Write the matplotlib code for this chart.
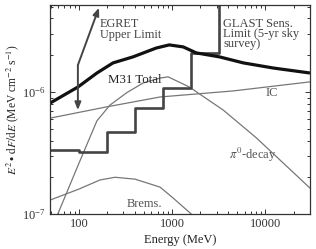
import matplotlib
matplotlib.use("Agg")
import matplotlib.pyplot as plt
from matplotlib.ticker import LogLocator, FixedLocator, FixedFormatter, NullFormatter

plt.rcParams['font.family'] = ['Liberation Serif', 'DejaVu Serif']
plt.rcParams['mathtext.fontset'] = 'stix'

# ---- data ----
m31_E = [49, 98, 156, 232, 381, 673, 929, 1313, 1811, 3200, 5800, 12200, 30000]
m31_F = [8.1e-7, 1.10e-6, 1.43e-6, 1.73e-6, 1.94e-6, 2.29e-6, 2.43e-6, 2.34e-6,
         2.09e-6, 1.94e-6, 1.73e-6, 1.57e-6, 1.43e-6]

ic_E = [49, 190, 742, 4520, 30000]
ic_F = [6.1e-7, 7.5e-7, 9.1e-7, 1.02e-6, 1.21e-6]

pi0_E = [59.4, 100, 156, 215, 328, 488, 742, 905, 1520, 3530, 8000, 30000]
pi0_F = [1.0e-7, 2.6e-7, 5.8e-7, 7.8e-7, 9.9e-7, 1.185e-6, 1.30e-6, 1.33e-6,
         1.10e-6, 7.1e-7, 4.2e-7, 1.63e-7]

brems_E = [49, 100, 168, 244, 400, 742, 1025, 1600]
brems_F = [1.30e-7, 1.60e-7, 1.90e-7, 2.0e-7, 1.93e-7, 1.66e-7, 1.35e-7, 1.0e-7]

glast_E = [49, 100, 200, 400, 800, 1600, 3200]
glast_F = [3.35e-7, 3.22e-7, 4.7e-7, 7.4e-7, 1.08e-6, 2.09e-6, 1.0e-5]

egret_E = [97.5, 97.5, 164]          # bottom tip, knee, top tip
egret_F = [7.1e-7, 1.66e-6, 4.9e-6]

xticks = [100, 1000, 10000]
xticklabels = ['100', '1000', '10000']

# ---- figure ----
fig = plt.figure(figsize=(3.16, 2.49), dpi=100)
ax = fig.add_axes([50/316, 1-214/249, 260/316, 209/249])

thin = '#777777'
ax.plot(ic_E, ic_F, color=thin, lw=0.9)
ax.plot(pi0_E, pi0_F, color=thin, lw=0.9)
ax.plot(brems_E, brems_F, color=thin, lw=0.9)
ax.step(glast_E, glast_F, where='post', color='#444444', lw=1.9)
ax.plot(m31_E, m31_F, color='#111111', lw=2.3, solid_capstyle='butt')

# EGRET upper limit arrows
arrow_kw = dict(arrowstyle='-|>,head_length=0.45,head_width=0.18', color='#444444', lw=1.4,
                shrinkA=0, shrinkB=0)
ax.annotate('', xy=(egret_E[0], egret_F[0]), xytext=(egret_E[1], egret_F[1]), arrowprops=arrow_kw)
ax.annotate('', xy=(egret_E[2], egret_F[2]), xytext=(egret_E[1], egret_F[1]), arrowprops=arrow_kw)

ax.set_xscale('log')
ax.set_yscale('log')
ax.set_xlim(49, 30000)
ax.set_ylim(1e-7, 5.16e-6)

ax.xaxis.set_major_locator(FixedLocator(xticks))
ax.xaxis.set_major_formatter(FixedFormatter(xticklabels))
ax.xaxis.set_minor_locator(LogLocator(base=10, subs=range(2, 10)))
ax.xaxis.set_minor_formatter(NullFormatter())
ax.yaxis.set_major_locator(LogLocator(base=10))
ax.yaxis.set_minor_locator(LogLocator(base=10, subs=range(2, 10)))
ax.yaxis.set_minor_formatter(NullFormatter())

ax.tick_params(which='both', direction='in', top=True, right=True, labelsize=9,
               colors='#333333', width=0.7)
ax.tick_params(which='major', length=3.5, pad=3)
ax.tick_params(which='minor', length=2)
for s in ax.spines.values():
    s.set_color('#333333')
    s.set_linewidth(0.9)

tc = '#444444'
ax.text(168, 4.0e-6, 'EGRET\nUpper Limit', fontsize=8.8, color=tc, va='top', ha='left', linespacing=0.85)
ax.text(205, 1.25e-6, 'M31 Total', fontsize=9.3, color='#222222', va='center', ha='left')
ax.text(3530, 4.05e-6, 'GLAST Sens.\nLimit (5-yr sky\nsurvey)', fontsize=9, color=tc,
        va='top', ha='left', linespacing=0.8)
ax.text(11600, 0.98e-6, 'IC', fontsize=9, color='#555555', va='center', ha='center')
ax.text(4110, 3.04e-7, r'$\pi^0$-decay', fontsize=9, color='#555555', va='center', ha='left')
ax.text(328, 1.21e-7, 'Brems.', fontsize=9, color='#555555', va='center', ha='left')

ax.set_xlabel('Energy (MeV)', fontsize=9, color='#222222', labelpad=3)
ax.set_ylabel(r'$E^2\bullet\,\mathrm{d}F/\mathrm{d}E$ (MeV cm$^{-2}$ s$^{-1}$)', fontsize=8.3,
              color='#222222', labelpad=1)

fig.savefig('out.png', dpi=100)
